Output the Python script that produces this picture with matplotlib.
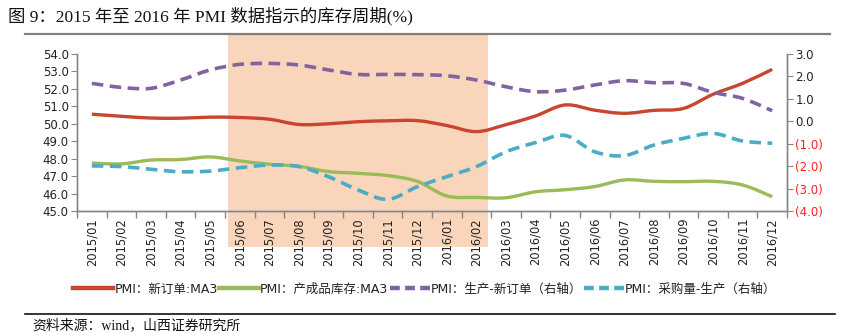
import numpy as np
import matplotlib
matplotlib.use('Agg')
import matplotlib.pyplot as plt
from matplotlib.path import Path
from matplotlib.patches import PathPatch
from matplotlib.lines import Line2D
from matplotlib.ticker import FuncFormatter

plt.rcParams['font.family'] = ['DejaVu Sans', 'Noto Sans CJK SC']

months = ['2015/01', '2015/02', '2015/03', '2015/04', '2015/05', '2015/06',
          '2015/07', '2015/08', '2015/09', '2015/10', '2015/11', '2015/12',
          '2016/01', '2016/02', '2016/03', '2016/04', '2016/05', '2016/06',
          '2016/07', '2016/08', '2016/09', '2016/10', '2016/11', '2016/12']

# left axis
new_orders_ma3 = [50.55, 50.43, 50.33, 50.32, 50.38, 50.36, 50.26, 49.96,
                  50.0, 50.12, 50.17, 50.18, 49.9, 49.55, 49.95, 50.45,
                  51.08, 50.78, 50.6, 50.77, 50.88, 51.69, 52.32, 53.12]
inventory_ma3 = [47.75, 47.7, 47.92, 47.95, 48.1, 47.87, 47.68, 47.56,
                 47.26, 47.16, 47.03, 46.7, 45.86, 45.78, 45.76, 46.1,
                 46.22, 46.4, 46.78, 46.7, 46.68, 46.7, 46.49, 45.82]
# right axis
prod_minus_orders = [1.69, 1.51, 1.47, 1.84, 2.29, 2.54, 2.58, 2.51,
                     2.29, 2.09, 2.09, 2.08, 2.03, 1.84, 1.54, 1.32,
                     1.39, 1.62, 1.81, 1.72, 1.69, 1.29, 1.02, 0.47]
purchase_minus_prod = [-1.99, -2.02, -2.14, -2.25, -2.22, -2.07, -1.95, -2.02,
                       -2.47, -3.06, -3.48, -2.92, -2.47, -2.02, -1.36, -0.95,
                       -0.63, -1.36, -1.53, -1.06, -0.76, -0.54, -0.88, -0.98]

legend_labels = ['PMI：新订单:MA3', 'PMI：产成品库存:MA3',
                 'PMI：生产-新订单（右轴）', 'PMI：采购量-生产（右轴）']

red = '#C8452F'
green = '#9BBB59'
purple = '#8064A2'
blue = '#4BACC6'
shade = '#F9D5BB'
axis_grey = '#868686'


def smooth_path(x, y):
    # Catmull-Rom spline turned into cubic Bezier segments
    x = np.asarray(x, float)
    y = np.asarray(y, float)
    verts = [(x[0], y[0])]
    codes = [Path.MOVETO]
    n = len(x)
    for i in range(n - 1):
        p0 = (x[max(i - 1, 0)], y[max(i - 1, 0)])
        p1 = (x[i], y[i])
        p2 = (x[i + 1], y[i + 1])
        p3 = (x[min(i + 2, n - 1)], y[min(i + 2, n - 1)])
        c1 = (p1[0] + (p2[0] - p0[0]) / 6, p1[1] + (p2[1] - p0[1]) / 6)
        c2 = (p2[0] - (p3[0] - p1[0]) / 6, p2[1] - (p3[1] - p1[1]) / 6)
        verts += [c1, c2, p2]
        codes += [Path.CURVE4] * 3
    return Path(verts, codes)


def draw_smooth(ax, y, color, lw, dashes=None):
    x = np.arange(len(y))
    patch = PathPatch(smooth_path(x, y), fill=False, edgecolor=color,
                      lw=lw, capstyle='butt', zorder=3)
    if dashes is not None:
        patch.set_linestyle((0, dashes))
    ax.add_patch(patch)


fig = plt.figure(figsize=(8.41, 3.33), dpi=100)
ax = fig.add_axes([0.0916, 0.3664, 0.8442, 0.4714])
ax2 = ax.twinx()

x = np.arange(len(months))
ax.set_xlim(-0.5, len(months) - 0.5)
ax.set_ylim(45, 54)
ax2.set_ylim(-4, 3)

# inventory-cycle shading, running past the plot area
ax.axvspan(4.6, 13.4, ymin=-0.23, ymax=1.13, color=shade, lw=0,
           clip_on=False, zorder=0)

draw_smooth(ax, new_orders_ma3, red, 2.4)
draw_smooth(ax, inventory_ma3, green, 2.4)
draw_smooth(ax2, prod_minus_orders, purple, 2.6, dashes=(3.2, 1.8))
draw_smooth(ax2, purchase_minus_prod, blue, 2.6, dashes=(3.2, 1.8))

ax.set_yticks(np.arange(45, 54.1, 1))
ax.yaxis.set_major_formatter(FuncFormatter(lambda v, p: f'{v:.1f}'))
ax2.set_yticks(np.arange(-4, 3.1, 1))
ax2.yaxis.set_major_formatter(
    FuncFormatter(lambda v, p: f'({abs(v):.1f})' if v < 0 else f'{v:.1f}'))
for lab, v in zip(ax2.get_yticklabels(), np.arange(-4, 3.1, 1)):
    lab.set_color('#FF2020' if v < 0 else '#222222')

ax.set_xticks(x)
ax.set_xticklabels(months, rotation=90, fontsize=8.3, color='#222222')
ax.set_xticks(np.arange(-0.5, len(months), 1), minor=True)
ax.tick_params(axis='x', which='major', length=0, pad=5)
ax.tick_params(axis='x', which='minor', length=5, color=axis_grey, width=1)
ax.tick_params(axis='y', length=4, color=axis_grey, labelsize=8.5,
               labelcolor='#222222', pad=2)
ax2.tick_params(axis='y', length=4, color=axis_grey, labelsize=8.5, pad=2)

for a in (ax, ax2):
    a.spines['top'].set_visible(False)
    for s in ('left', 'right', 'bottom'):
        a.spines[s].set_color(axis_grey)
        a.spines[s].set_linewidth(1)
ax.patch.set_visible(False)

handles = [Line2D([], [], color=red, lw=3.2),
           Line2D([], [], color=green, lw=3.2),
           Line2D([], [], color=purple, lw=3.2, ls=(0, (2.2, 1.2))),
           Line2D([], [], color=blue, lw=3.2, ls=(0, (2.2, 1.2)))]
fig.legend(handles, legend_labels, loc='center', bbox_to_anchor=(0.505, 0.132),
           ncol=4, frameon=False, fontsize=9, handlelength=3.2,
           handletextpad=0.1, columnspacing=0.1, labelcolor='#222222')

title_font = ['Liberation Serif', 'Noto Sans CJK SC']
fig.text(0.01, 0.953, '图 9：2015 年至 2016 年 PMI 数据指示的库存周期(%)',
         family=title_font, fontsize=12.5, va='center', ha='left',
         color='#111111')
fig.add_artist(Line2D([0.03, 0.987], [0.898, 0.898], color='#808080', lw=1.6))
fig.add_artist(Line2D([0.03, 0.993], [0.058, 0.058], color='#111111', lw=1.2))
fig.text(0.038, 0.003, '资料来源：wind，山西证券研究所', family=title_font,
         fontsize=10, va='bottom', ha='left', color='#111111')

fig.savefig('out.png', dpi=100)
